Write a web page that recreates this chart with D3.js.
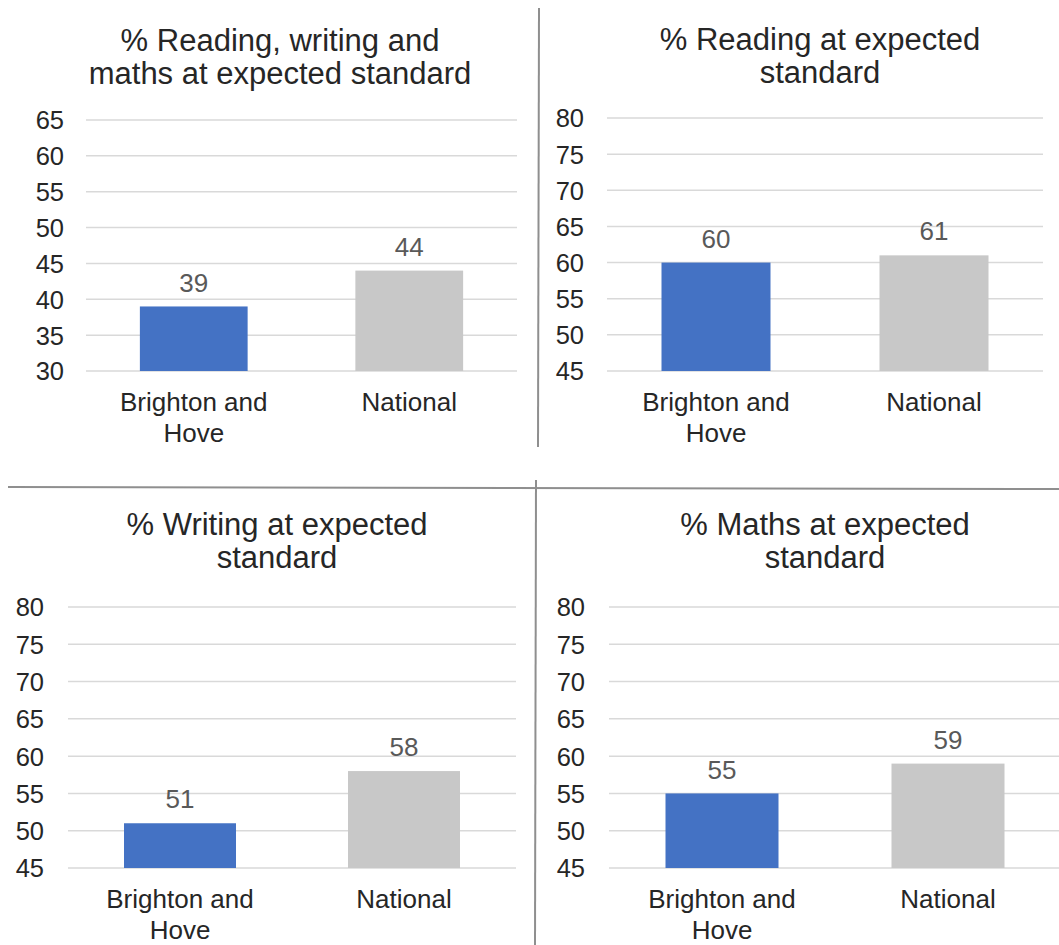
<!DOCTYPE html>
<html>
<head>
<meta charset="utf-8">
<script src="https://cdn.jsdelivr.net/npm/d3@7"></script>
<style>
  html, body { margin: 0; padding: 0; background: #fff; }
  svg { display: block; font-family: "Liberation Sans", Arial, sans-serif; }
</style>
</head>
<body>
<svg id="chart" width="1059" height="945"></svg>
<script>
// Key Stage 2 attainment: Brighton and Hove against national figures
const categories = ["Brighton and Hove", "National"];
const titles = [
  ["% Reading, writing and", "maths at expected standard"],
  ["% Reading at expected", "standard"],
  ["% Writing at expected", "standard"],
  ["% Maths at expected", "standard"]
];
const brightonValues = [39, 60, 51, 55];
const nationalValues = [44, 61, 58, 59];
const axisMin = [30, 45, 45, 45];
const axisMax = [65, 80, 80, 80];
const tickStep = 5;

const barColors = ["#4472C4", "#C8C8C8"];

// Panel geometry (pixels)
const layout = [
  { x0: 86,  x1: 517,  yTop: 120, yBot: 371, tickX: 64,  titleX: 280, titleY: 40,  catY: 402, gridEnd: 517 },
  { x0: 607, x1: 1043, yTop: 118, yBot: 371, tickX: 584, titleX: 820, titleY: 39,  catY: 402, gridEnd: 1043 },
  { x0: 68,  x1: 516,  yTop: 607, yBot: 868, tickX: 44,  titleX: 277, titleY: 524, catY: 899, gridEnd: 516 },
  { x0: 609, x1: 1061, yTop: 607, yBot: 868, tickX: 585, titleX: 825, titleY: 524, catY: 899, gridEnd: 1059 }
];

const svg = d3.select("#chart");

// Frame lines separating the four panels
const frame = svg.append("g").attr("stroke", "#8f8f8f").attr("stroke-width", 2);
frame.append("line").attr("x1", 539).attr("x2", 538).attr("y1", 8).attr("y2", 447);
frame.append("line").attr("x1", 8).attr("x2", 1059).attr("y1", 487).attr("y2", 489);
frame.append("line").attr("x1", 536).attr("x2", 535).attr("y1", 480).attr("y2", 945);

// Break a label into centred lines that fit the given width
function wrapLines(textSel, width) {
  textSel.each(function () {
    const t = d3.select(this);
    const words = t.text().split(/\s+/);
    const lh = +t.attr("data-lh");
    t.text(null);
    let line = [];
    let tspan = t.append("tspan").attr("x", t.attr("x")).attr("dy", "0.35em");
    for (const w of words) {
      line.push(w);
      tspan.text(line.join(" "));
      if (tspan.node().getComputedTextLength() > width && line.length > 1) {
        line.pop();
        tspan.text(line.join(" "));
        line = [w];
        tspan = t.append("tspan").attr("x", t.attr("x")).attr("dy", lh).text(w);
      }
    }
  });
}

titles.forEach((title, i) => {
  const L = layout[i];
  const g = svg.append("g");
  const values = [brightonValues[i], nationalValues[i]];

  const x = d3.scaleBand()
    .domain(categories)
    .range([L.x0, L.x1])
    .paddingInner(0.5)
    .paddingOuter(0.25);

  const y = d3.scaleLinear()
    .domain([axisMin[i], axisMax[i]])
    .range([L.yBot, L.yTop]);

  const ticks = d3.range(axisMin[i], axisMax[i] + tickStep / 2, tickStep);

  // Title
  g.append("text")
    .attr("x", L.titleX)
    .attr("y", L.titleY)
    .attr("text-anchor", "middle")
    .attr("font-size", 31)
    .attr("fill", "#262626")
    .selectAll("tspan")
    .data(title)
    .join("tspan")
    .attr("x", L.titleX)
    .attr("dy", (d, k) => k === 0 ? "0.35em" : 33)
    .text(d => d);

  // Horizontal gridlines
  g.append("g")
    .selectAll("line")
    .data(ticks)
    .join("line")
    .attr("x1", L.x0)
    .attr("x2", L.gridEnd)
    .attr("y1", d => y(d))
    .attr("y2", d => y(d))
    .attr("stroke", "#D9D9D9")
    .attr("stroke-width", 1.5);

  // Y axis labels
  const yAxis = d3.axisLeft(y).tickValues(ticks).tickSize(0).tickPadding(0);
  const ya = g.append("g")
    .attr("transform", `translate(${L.tickX},0)`)
    .call(yAxis);
  ya.select(".domain").remove();
  ya.selectAll("text")
    .attr("font-size", 25.5)
    .attr("font-family", "Liberation Sans, Arial, sans-serif")
    .attr("fill", "#262626")
    .attr("dy", "0.35em");

  // Bars
  g.append("g")
    .selectAll("rect")
    .data(values)
    .join("rect")
    .attr("x", (d, k) => x(categories[k]))
    .attr("width", x.bandwidth())
    .attr("y", d => y(d))
    .attr("height", d => y(axisMin[i]) - y(d))
    .attr("fill", (d, k) => barColors[k]);

  // Value labels
  g.append("g")
    .selectAll("text")
    .data(values)
    .join("text")
    .attr("x", (d, k) => x(categories[k]) + x.bandwidth() / 2)
    .attr("y", d => y(d) - 24)
    .attr("dy", "0.35em")
    .attr("text-anchor", "middle")
    .attr("font-size", 26)
    .attr("fill", "#595959")
    .text(d => d);

  // Category labels
  g.append("g")
    .selectAll("text")
    .data(categories)
    .join("text")
    .attr("x", d => x(d) + x.bandwidth() / 2)
    .attr("y", L.catY)
    .attr("data-lh", 31)
    .attr("text-anchor", "middle")
    .attr("font-size", 26)
    .attr("fill", "#262626")
    .text(d => d)
    .call(wrapLines, x.step() * 0.8);
});
</script>
</body>
</html>
